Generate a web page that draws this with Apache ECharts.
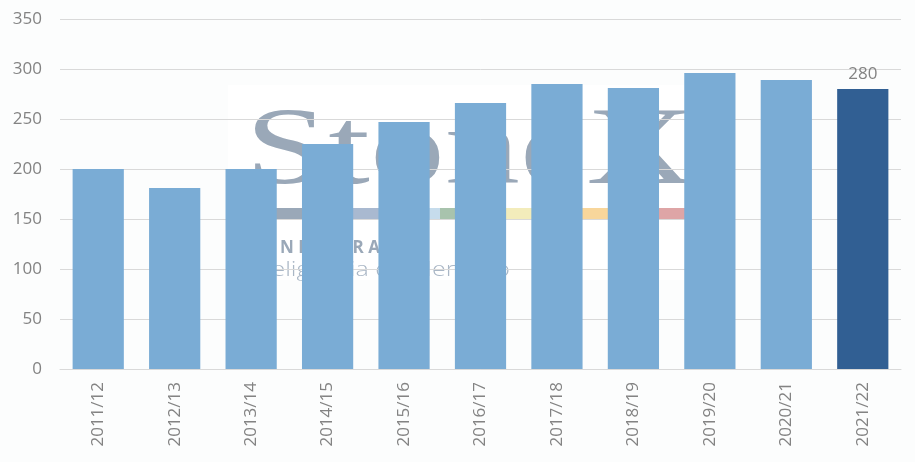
<!DOCTYPE html>
<html><head><meta charset="utf-8">
<script src="https://cdn.jsdelivr.net/npm/echarts@6/dist/echarts.min.js"></script>
<style>html,body{margin:0;padding:0;background:#fcfdfd}#c{width:915px;height:462px}</style>
</head><body><div id="c"></div>
<script>
const categories = ['2011/12','2012/13','2013/14','2014/15','2015/16','2016/17','2017/18','2018/19','2019/20','2020/21','2021/22'];
const values = [200, 181, 200, 225, 247, 266, 285, 281, 296, 289, 280];
const yTicks = [0, 50, 100, 150, 200, 250, 300, 350];
const highlightIndex = 10;

const chart = echarts.init(document.getElementById('c'));
const stripe = [
  ['#9aa8b8', 270, 352], ['#a9b9d0', 352, 400], ['#c6dcec', 400, 440], ['#a8c3ad', 440, 490],
  ['#f3ecbb', 490, 545], ['#f8d69b', 545, 612], ['#dea5a6', 612, 686]
];
const graphics = [
  {type:'rect', z:-2, shape:{x:228,y:85,width:472,height:195}, style:{fill:'#ffffff'}, silent:true},
  {type:'text', z:-1, x:245, y:209, scaleX:1.35, style:{text:'StoneX', font:'111px "Liberation Serif", serif', fill:'#9aa8b8', verticalAlign:'bottom'}, silent:true},
  {type:'text', z:-1, x:234, y:248, style:{text:'S T O N E X   B R A S I L', font:'bold 17px "Open Sans", sans-serif', fill:'#9aa8b8', verticalAlign:'middle'}, silent:true},
  {type:'text', z:-1, x:242, y:270, scaleX:1.25, style:{text:'Inteligência de Mercado', font:'300 20px "Open Sans", sans-serif', fill:'#aab7c6', verticalAlign:'middle'}, silent:true}
].concat(stripe.map(s => ({type:'rect', z:-1, shape:{x:s[1], y:208, width:s[2]-s[1], height:12}, style:{fill:s[0]}, silent:true})));

chart.setOption({
  backgroundColor:'#fcfdfd',
  animation:false,
  graphic: graphics,
  grid:{left:60, right:14, top:19, bottom:93},
  xAxis:{
    type:'category', data:categories,
    axisLine:{lineStyle:{color:'#d9d9d9', width:1}},
    axisTick:{show:false},
    axisLabel:{rotate:90, color:'#838383', fontSize:17, margin:13, fontFamily:'"Open Sans", sans-serif'}
  },
  yAxis:{
    type:'value', min:yTicks[0], max:yTicks[yTicks.length-1], interval:50,
    axisLine:{show:false}, axisTick:{show:false},
    splitLine:{lineStyle:{color:'#d9d9d9', width:1}},
    axisLabel:{color:'#838383', fontSize:17, margin:18, fontFamily:'"Open Sans", sans-serif'}
  },
  series:[{
    type:'bar', barCategoryGap:'33%',
    data: values.map((v,i) => i === highlightIndex
      ? {value:v, itemStyle:{color:'#315f93'}, label:{show:true, position:'top', color:'#838383', fontSize:17, distance:6, fontFamily:'"Open Sans", sans-serif'}}
      : {value:v}),
    itemStyle:{color:'#7aacd5'}
  }]
});
</script></body></html>
